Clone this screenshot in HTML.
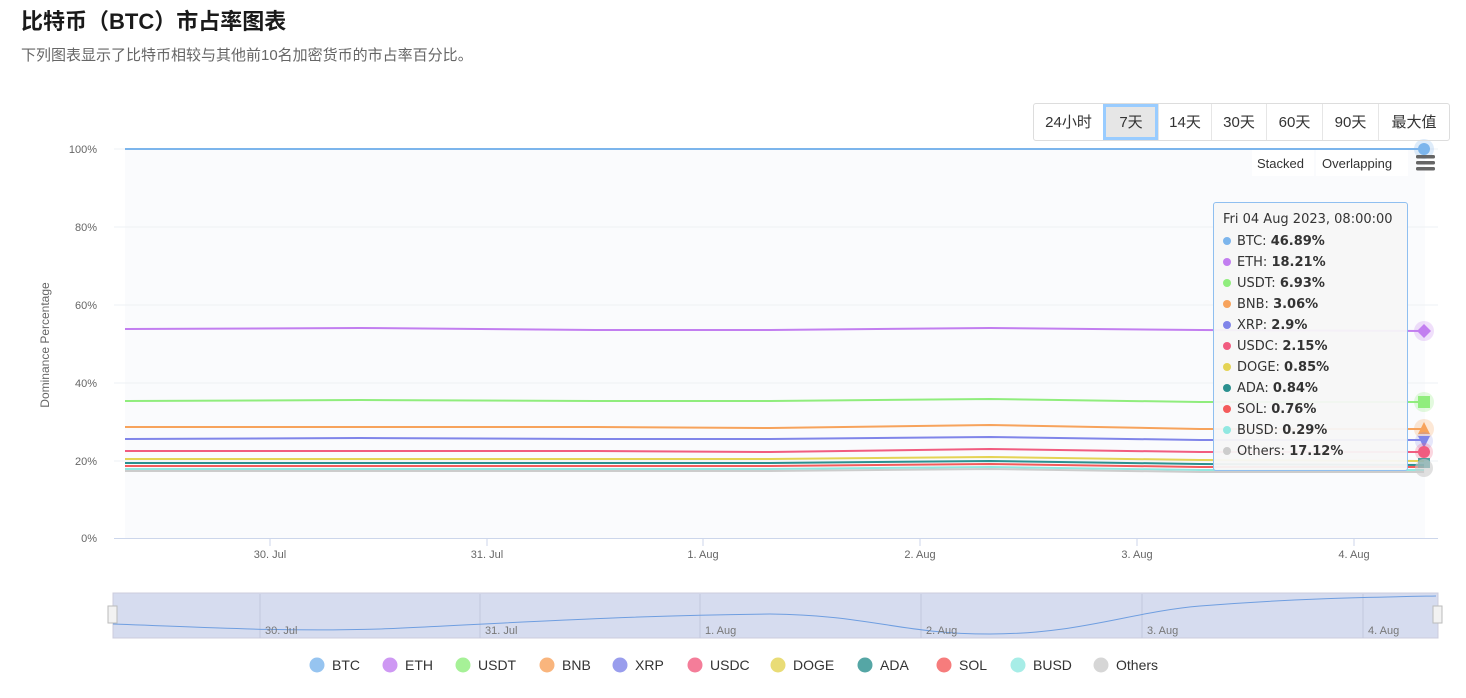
<!DOCTYPE html>
<html><head><meta charset="utf-8"><style>
body{margin:0;background:#fff;width:1466px;height:698px;overflow:hidden;font-family:"Liberation Sans","Noto Sans CJK SC",sans-serif;}
h1{position:absolute;left:21px;top:4px;margin:0;font-size:22px;font-weight:bold;color:#1a1a1a;}
.sub{position:absolute;left:21px;top:44px;font-size:15px;color:#666;}
.btns{position:absolute;left:1033px;top:103px;height:36px;border:1px solid #ddd;border-radius:3px;display:flex;}
.btns div{text-align:center;line-height:38px;font-size:15px;color:#333;border-left:1px solid #e6e6e6;box-sizing:border-box;}
.btns div:first-child{border-left:none}
.btns .act{background:#e6e6e6;outline:3px solid #99ccff;outline-offset:-3px;}
svg text{font-family:"Liberation Sans","DejaVu Sans",sans-serif;}
.tt{position:absolute;left:1213px;top:202px;width:193px;height:267px;background:rgba(247,247,247,0.95);border:1px solid #8fbff0;border-radius:3px;font-family:"DejaVu Sans",sans-serif;font-size:13px;color:#333;}
.tt .h{position:absolute;left:9px;top:9px;}
.tt .r{position:absolute;left:9px;}
.tt b{font-weight:600;}
.tt .r span.d{display:inline-block;width:8px;height:8px;border-radius:50%;margin-right:6px;}
</style></head><body>
<h1>比特币（BTC）市占率图表</h1>
<div class="sub">下列图表显示了比特币相较与其他前10名加密货币的市占率百分比。</div>
<svg width="1466" height="698" style="position:absolute;left:0;top:0">
<rect x="125" y="149" width="1300" height="389" fill="#fafbfd"/>
<g stroke="#eef0f4" stroke-width="1">
<line x1="114" y1="149" x2="1438" y2="149"/><line x1="114" y1="227" x2="1438" y2="227"/><line x1="114" y1="305" x2="1438" y2="305"/><line x1="114" y1="383" x2="1438" y2="383"/><line x1="114" y1="461" x2="1438" y2="461"/>
</g>
<line x1="114" y1="538.5" x2="1438" y2="538.5" stroke="#ccd6eb"/>
<g stroke="#ccd6eb"><line x1="270" y1="538" x2="270" y2="546"/><line x1="487" y1="538" x2="487" y2="546"/><line x1="703" y1="538" x2="703" y2="546"/><line x1="920" y1="538" x2="920" y2="546"/><line x1="1137" y1="538" x2="1137" y2="546"/><line x1="1354" y1="538" x2="1354" y2="546"/></g>
<g font-size="11" fill="#666" text-anchor="end">
<text x="97" y="153">100%</text><text x="97" y="231">80%</text><text x="97" y="309">60%</text><text x="97" y="387">40%</text><text x="97" y="465">20%</text><text x="97" y="542">0%</text></g>
<text transform="translate(49,345) rotate(-90)" font-size="12" fill="#666" text-anchor="middle">Dominance Percentage</text>
<g font-size="11" fill="#666" text-anchor="middle">
<text x="270" y="558">30. Jul</text><text x="487" y="558">31. Jul</text><text x="703" y="558">1. Aug</text><text x="920" y="558">2. Aug</text><text x="1137" y="558">3. Aug</text><text x="1354" y="558">4. Aug</text></g>
<g fill="none" stroke-width="2">
<polyline stroke="#7cb5ec" points="125,149 1424,149"/>
<polyline stroke="#c27ef0" points="125,329 360,328 595,330 770,330 990,328 1200,330 1424,331"/>
<polyline stroke="#90ed7d" points="125,401 360,400 595,401 770,401 990,399 1200,402 1424,402"/>
<polyline stroke="#f7a35c" points="125,427 360,427 595,427 770,428 990,425 1200,429 1424,429"/>
<polyline stroke="#8085e9" points="125,439 360,438 595,439 770,439 990,437 1200,440 1424,440"/>
<polyline stroke="#f15c80" points="125,451 360,451 595,451 770,452 990,449 1200,452 1424,452"/>
<polyline stroke="#e4d354" points="125,459 360,459 595,459 770,459 990,457 1200,460 1424,461"/>
<polyline stroke="#2b908f" points="125,463 360,463 595,463 770,463 990,461 1200,464 1424,465"/>
<polyline stroke="#f45b5b" points="125,466 360,466 595,466 770,466 990,464 1200,467 1424,467"/>
<polyline stroke="#91e8e1" points="125,469 360,469 595,469 770,469 990,467 1200,470 1424,470"/>
<polyline stroke="#cccccc" points="125,471 360,471 595,471 770,471 990,469 1200,472 1424,472"/>
</g>
<circle cx="1424" cy="149" r="10" fill="#7cb5ec" opacity="0.25"/><circle cx="1424" cy="149" r="6" fill="#7cb5ec"/>
<circle cx="1424" cy="331" r="10" fill="#c27ef0" opacity="0.25"/><path d="M1424,324 L1431,331 L1424,338 L1417,331Z" fill="#c27ef0"/>
<circle cx="1424" cy="402" r="10" fill="#90ed7d" opacity="0.25"/><rect x="1418" y="396" width="12" height="12" fill="#90ed7d"/>
<circle cx="1424" cy="429" r="10" fill="#f7a35c" opacity="0.25"/><path d="M1424,422 L1430,434 L1418,434Z" fill="#f7a35c"/>
<circle cx="1424" cy="441" r="9" fill="#8085e9" opacity="0.2"/><path d="M1418,436 L1430,436 L1424,448Z" fill="#8085e9"/>
<circle cx="1424" cy="452" r="9" fill="#f15c80" opacity="0.25"/><circle cx="1424" cy="452" r="6" fill="#f15c80"/>
<rect x="1418" y="458" width="12" height="10" fill="#2b908f" opacity="0.8"/>
<circle cx="1424" cy="468" r="9" fill="#cccccc" opacity="0.6"/>
<rect x="1252" y="150" width="62" height="26" fill="#fff"/><text x="1257" y="168" font-size="13" fill="#333" font-family="DejaVu Sans">Stacked</text>
<rect x="1316" y="150" width="92" height="26" fill="#fff"/><text x="1322" y="168" font-size="13" fill="#333" font-family="DejaVu Sans">Overlapping</text>
<g fill="#666"><rect x="1416" y="155" width="19" height="3.5" rx="1.5"/><rect x="1416" y="161" width="19" height="3.5" rx="1.5"/><rect x="1416" y="167" width="19" height="3.5" rx="1.5"/></g>
<rect x="113" y="593" width="1325" height="45" fill="#d6dcef" stroke="#ccd" />
<g stroke="#c3c9dc"><line x1="260" y1="594" x2="260" y2="638"/><line x1="480" y1="594" x2="480" y2="638"/><line x1="700" y1="594" x2="700" y2="638"/><line x1="921" y1="594" x2="921" y2="638"/><line x1="1142" y1="594" x2="1142" y2="638"/><line x1="1363" y1="594" x2="1363" y2="638"/></g>
<path d="M113,624 C200,627 280,632 380,629 C480,625 600,616 770,614 C870,615 900,634 990,634 C1080,634 1130,612 1200,606 C1300,598 1380,597 1436,596" fill="none" stroke="#6f9ee0" stroke-width="1"/>
<g font-size="11" fill="#777"><text x="265" y="634">30. Jul</text><text x="485" y="634">31. Jul</text><text x="705" y="634">1. Aug</text><text x="926" y="634">2. Aug</text><text x="1147" y="634">3. Aug</text><text x="1368" y="634">4. Aug</text></g>
<rect x="108" y="606" width="9" height="17" fill="#f2f2f2" stroke="#bbb"/><rect x="1433" y="606" width="9" height="17" fill="#f2f2f2" stroke="#bbb"/>
<g font-size="14" fill="#333">
<circle cx="317" cy="665" r="7.5" fill="#7cb5ec" opacity="0.8"/><text x="332" y="670">BTC</text>
<circle cx="390" cy="665" r="7.5" fill="#c27ef0" opacity="0.8"/><text x="405" y="670">ETH</text>
<circle cx="463" cy="665" r="7.5" fill="#90ed7d" opacity="0.8"/><text x="478" y="670">USDT</text>
<circle cx="547" cy="665" r="7.5" fill="#f7a35c" opacity="0.8"/><text x="562" y="670">BNB</text>
<circle cx="620" cy="665" r="7.5" fill="#8085e9" opacity="0.8"/><text x="635" y="670">XRP</text>
<circle cx="695" cy="665" r="7.5" fill="#f15c80" opacity="0.8"/><text x="710" y="670">USDC</text>
<circle cx="778" cy="665" r="7.5" fill="#e4d354" opacity="0.8"/><text x="793" y="670">DOGE</text>
<circle cx="865" cy="665" r="7.5" fill="#2b908f" opacity="0.8"/><text x="880" y="670">ADA</text>
<circle cx="944" cy="665" r="7.5" fill="#f45b5b" opacity="0.8"/><text x="959" y="670">SOL</text>
<circle cx="1018" cy="665" r="7.5" fill="#91e8e1" opacity="0.8"/><text x="1033" y="670">BUSD</text>
<circle cx="1101" cy="665" r="7.5" fill="#cccccc" opacity="0.8"/><text x="1116" y="670">Others</text>
</g>
</svg>
<div class="btns"><div style="width:69px">24小时</div><div class="act" style="width:55px">7天</div><div style="width:53px">14天</div><div style="width:55px">30天</div><div style="width:56px">60天</div><div style="width:56px">90天</div><div style="width:71px">最大值</div></div>
<div class="tt">
<div class="h">Fri 04 Aug 2023, 08:00:00</div>
<div class="r" style="top:31px"><span class="d" style="background:#7cb5ec"></span>BTC: <b>46.89%</b></div>
<div class="r" style="top:52px"><span class="d" style="background:#c27ef0"></span>ETH: <b>18.21%</b></div>
<div class="r" style="top:73px"><span class="d" style="background:#90ed7d"></span>USDT: <b>6.93%</b></div>
<div class="r" style="top:94px"><span class="d" style="background:#f7a35c"></span>BNB: <b>3.06%</b></div>
<div class="r" style="top:115px"><span class="d" style="background:#8085e9"></span>XRP: <b>2.9%</b></div>
<div class="r" style="top:136px"><span class="d" style="background:#f15c80"></span>USDC: <b>2.15%</b></div>
<div class="r" style="top:157px"><span class="d" style="background:#e4d354"></span>DOGE: <b>0.85%</b></div>
<div class="r" style="top:178px"><span class="d" style="background:#2b908f"></span>ADA: <b>0.84%</b></div>
<div class="r" style="top:199px"><span class="d" style="background:#f45b5b"></span>SOL: <b>0.76%</b></div>
<div class="r" style="top:220px"><span class="d" style="background:#91e8e1"></span>BUSD: <b>0.29%</b></div>
<div class="r" style="top:241px"><span class="d" style="background:#cccccc"></span>Others: <b>17.12%</b></div>
</div>
</body></html>
